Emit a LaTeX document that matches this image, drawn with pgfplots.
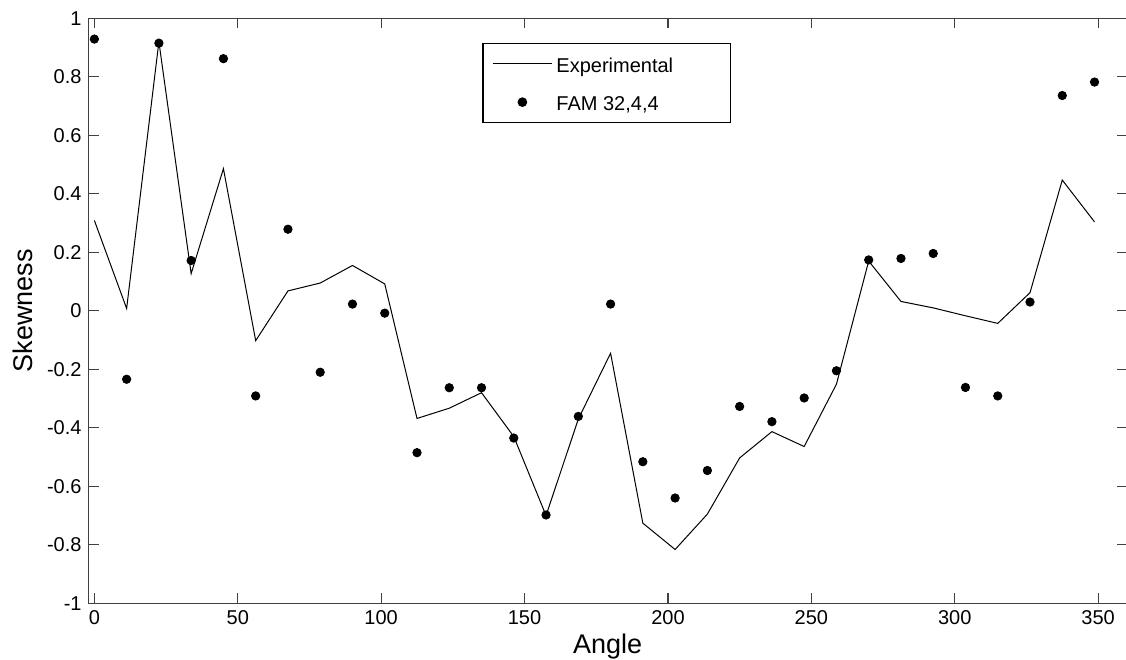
\documentclass[border=0pt]{standalone}
\usepackage{fontspec}
\setmainfont{Liberation Sans}
\usepackage{pgfplots}
\pgfplotsset{compat=1.18}
\pgfplotsset{
  legline/.style={legend image code/.code={\draw[##1] (0pt,0pt) -- (29.5pt,0pt);}},
  legdot/.style={legend image code/.code={\draw[mark repeat=2,mark phase=2,##1] plot coordinates {(0pt,0pt) (14.75pt,0pt) (29.5pt,0pt)};}},
}
\begin{document}
\begin{tikzpicture}
\begin{axis}[
  scale only axis,
  width=518.9pt, height=292.4pt,
  xmin=-2, xmax=360, ymin=-1, ymax=1,
  xtick={0,50,...,350},
  ytick={-1,-0.8,-0.6,-0.4,-0.2,0,0.2,0.4,0.6,0.8,1},
  tick align=inside,
  major tick length=5pt,
  minor tick num=0,
  /pgf/number format/assume math mode=true,
  ticklabel style={font=\fontsize{10}{12}\selectfont},
  axis line style={line width=0.6pt, draw=black!75},
  tick style={line width=0.6pt, draw=black!75},
  xlabel={Angle}, ylabel={Skewness},
  every axis x label/.style={at={(axis description cs:0.5,0)}, anchor=base, yshift=-25pt, font=\fontsize{13.5}{16}\selectfont},
  every axis y label/.style={at={(axis description cs:0,0.5)}, rotate=90, anchor=center, yshift=33pt, font=\fontsize{13.5}{16}\selectfont},
  legend style={at={(axis cs:135.3,0.916)}, anchor=north west, draw=black, line width=0.6pt, fill=white,
    inner xsep=4.7pt, inner ysep=3pt, row sep=4.95pt, font=\fontsize{10}{12}\selectfont,
    nodes={inner sep=2pt, text height=9.35pt, text depth=0.9pt}},
  legend cell align=left,
]
\addplot[black, line width=0.5pt, mark=none, legline]
coordinates {
(0,0.309) (11.25,0.008) (22.5,0.92) (33.75,0.127) (45,0.486) (56.25,-0.102)
(67.5,0.068) (78.75,0.095) (90,0.155) (101.25,0.092) (112.5,-0.368) (123.75,-0.333)
(135,-0.280) (146.25,-0.43) (157.5,-0.70) (168.75,-0.37) (180,-0.145) (191.25,-0.726)
(202.5,-0.816) (213.75,-0.695) (225,-0.503) (236.25,-0.413) (247.5,-0.464) (258.75,-0.251)
(270,0.17) (281.25,0.032) (292.5,0.01) (303.75,-0.017) (315,-0.043) (326.25,0.062)
(337.5,0.447) (348.75,0.304)
};
\addlegendentry{\makebox[80.5pt][l]{Experimental}}
\addplot[only marks, mark=*, mark size=2.1pt, black, legdot]
coordinates {
(0,0.929) (11.25,-0.234) (22.5,0.915) (33.75,0.172) (45,0.862) (56.25,-0.291)
(67.5,0.279) (78.75,-0.210) (90,0.023) (101.25,-0.008) (112.5,-0.485) (123.75,-0.263)
(135,-0.263) (146.25,-0.435) (157.5,-0.698) (168.75,-0.361) (180,0.023) (191.25,-0.516)
(202.5,-0.640) (213.75,-0.546) (225,-0.327) (236.25,-0.379) (247.5,-0.298) (258.75,-0.205)
(270,0.174) (281.25,0.179) (292.5,0.196) (303.75,-0.262) (315,-0.291) (326.25,0.030)
(337.5,0.736) (348.75,0.782)
};
\addlegendentry{FAM 32,4,4}
\end{axis}
\pgfresetboundingbox
\path ([xshift=-44.3pt,yshift=-28pt]current axis.south west) rectangle ([xshift=-0.4pt,yshift=9.15pt]current axis.north east);
\end{tikzpicture}
\end{document}
